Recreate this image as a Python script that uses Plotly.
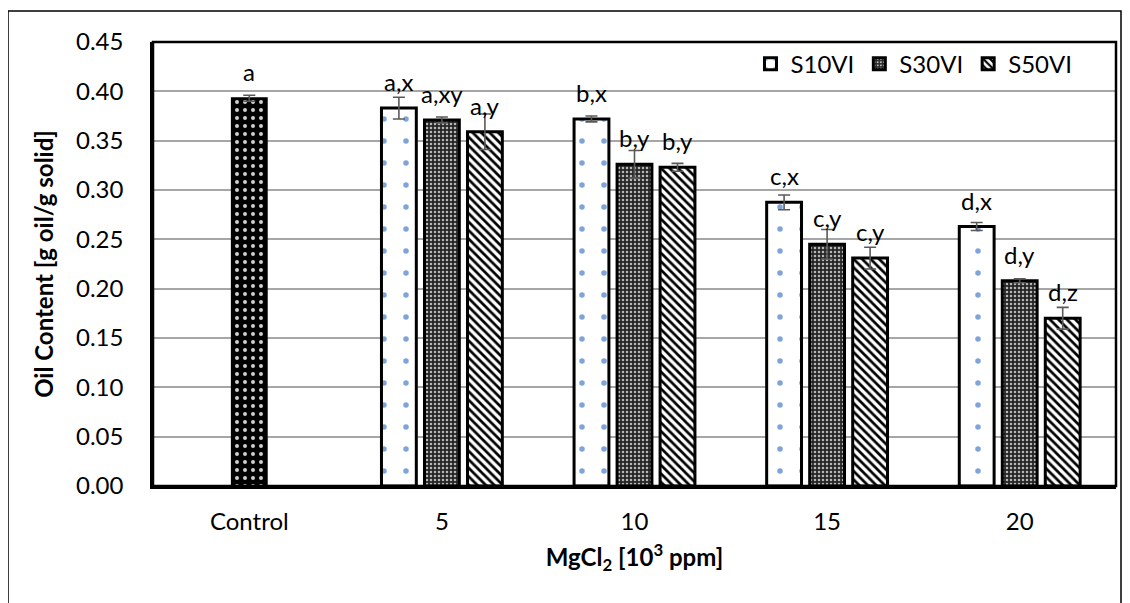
import plotly.graph_objects as go

categories = ["Control", "5", "10", "15", "20"]
series_names = ["S10VI", "S30VI", "S50VI"]

control_value = [0.393]
control_err = [0.003]
control_label = ["a"]

s10_values = [None, 0.383, 0.372, 0.2875, 0.263]
s10_err = [None, 0.011, 0.003, 0.0075, 0.004]
s10_labels = [None, "a,x", "b,x", "c,x", "d,x"]

s30_values = [None, 0.371, 0.326, 0.245, 0.208]
s30_err = [None, 0.003, 0.014, 0.015, 0.002]
s30_labels = [None, "a,xy", "b,y", "c,y", "d,y"]

s50_values = [None, 0.359, 0.323, 0.231, 0.170]
s50_err = [None, 0.018, 0.004, 0.011, 0.011]
s50_labels = [None, "a,y", "b,y", "c,y", "d,z"]

FONT = "Lato"
FS = 24

fig = go.Figure()

err_style = dict(type="data", color="#5a5a5a", thickness=1.6, width=6, visible=True)

patterns = [
    dict(shape=".", bgcolor="white", fgcolor="#7fa4da", size=22, solidity=0.05, fillmode="replace"),
    dict(shape=".", bgcolor="#262626", fgcolor="#b8b8b8", size=4, solidity=0.32, fillmode="replace"),
    dict(shape="\\", bgcolor="white", fgcolor="black", size=6, solidity=0.45, fillmode="replace"),
]

all_vals = [s10_values, s30_values, s50_values]
all_errs = [s10_err, s30_err, s50_err]
all_labels = [s10_labels, s30_labels, s50_labels]

for i, name in enumerate(series_names):
    fig.add_trace(go.Bar(
        x=categories, y=all_vals[i], name=name,
        offsetgroup=str(i),
        marker=dict(color="white", pattern=patterns[i], line=dict(color="black", width=3)),
        error_y=dict(array=all_errs[i], **err_style),
    ))

fig.add_trace(go.Bar(
    x=[categories[0]], y=control_value, name="Control", showlegend=False,
    offsetgroup="1",
    marker=dict(color="black",
                pattern=dict(shape=".", bgcolor="black", fgcolor="#cfcfcf", size=8, solidity=0.2, fillmode="replace"),
                line=dict(color="black", width=2)),
    error_y=dict(array=control_err, **err_style),
))

# letter labels above bars (x given as category index so "5","10" are not read as numbers)
slot_shift = [-43, 0, 43]
for i in range(3):
    for idx, (v, lab) in enumerate(zip(all_vals[i], all_labels[i])):
        if v is None:
            continue
        fig.add_annotation(x=idx, y=v, text=lab, showarrow=False, xshift=slot_shift[i],
                           yshift=10, yanchor="bottom", font=dict(family=FONT, size=FS, color="black"))
fig.add_annotation(x=0, y=control_value[0], text=control_label[0], showarrow=False,
                   yshift=10, yanchor="bottom", font=dict(family=FONT, size=FS, color="black"))

# outer chart border
fig.add_shape(type="rect", xref="paper", yref="paper",
              x0=(0 - 145) / 963, x1=(1113 - 145) / 963, y0=-0.5, y1=(478 - 3) / 444,
              line=dict(color="black", width=1.5), fillcolor="rgba(0,0,0,0)", layer="below")
# plot area border
fig.add_shape(type="rect", xref="paper", yref="paper", x0=0, x1=1, y0=0, y1=1,
              line=dict(color="black", width=2.5), fillcolor="rgba(0,0,0,0)")

fig.update_layout(
    width=1122, height=595,
    margin=dict(l=145, r=14, t=34, b=117),
    paper_bgcolor="white", plot_bgcolor="white",
    barmode="group", bargap=0.33, bargroupgap=0.19,
    font=dict(family=FONT, size=FS, color="black"),
    showlegend=True,
    legend=dict(orientation="h", x=0.96, xanchor="right", y=0.95, yanchor="middle",
                bgcolor="rgba(0,0,0,0)", font=dict(family=FONT, size=FS),
                itemwidth=30, tracegroupgap=0, traceorder="normal"),
    xaxis=dict(type="category", categoryorder="array", categoryarray=categories,
               range=[-0.5, len(categories) - 0.5], autorange=False,
               showgrid=False, showline=True, linecolor="black", linewidth=2.5,
               ticks="", ticklabelstandoff=12, tickangle=0,
               title=dict(text="<b>MgCl<sub>2</sub> [10<sup>3</sup> ppm]</b>",
                          font=dict(family=FONT, size=FS), standoff=16)),
    yaxis=dict(range=[0, 0.45], dtick=0.05, tickformat=".2f",
               showgrid=True, gridcolor="#a6a6a6", gridwidth=1.5,
               showline=True, linecolor="black", linewidth=2.5,
               ticks="", ticklabelstandoff=22, zeroline=False,
               title=dict(text="<b>Oil Content [g oil/g solid]</b>",
                          font=dict(family=FONT, size=FS), standoff=16)),
)

fig.write_html("out.html")
